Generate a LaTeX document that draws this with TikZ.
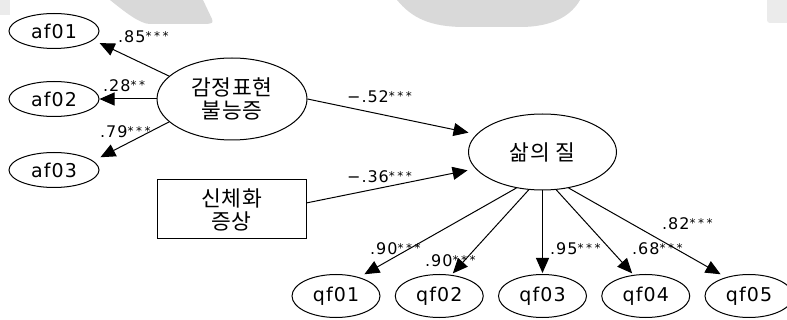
\documentclass[tikz,border=0pt]{standalone}
\usepackage{fontspec}
\setmainfont{DejaVu Sans}[LetterSpace=6]
\newfontfamily\kr{Noto Sans CJK KR}[LetterSpace=3]
\usetikzlibrary{arrows.meta,shapes.geometric}

% significance stars, small and raised
\newcommand\starsii{\raisebox{0.16em}{\fontsize{12}{12}\selectfont *\kern2.5pt*}}
\newcommand\starsiii{\raisebox{0.16em}{\fontsize{12}{12}\selectfont *\kern2.5pt*\kern2.5pt*}}

\tikzset{
  lat/.style={draw, ellipse, line width=1pt, inner sep=0pt,
    minimum width=90pt, minimum height=35pt, font=\fontsize{19}{21}\selectfont},
  ind/.style={draw, ellipse, line width=1pt, inner sep=0pt,
    minimum width=88pt, minimum height=43pt, font=\fontsize{19}{21}\selectfont},
  factor/.style={draw, ellipse, line width=1pt, inner sep=0pt, align=center,
    minimum width=150pt, minimum height=82pt, font=\kr\fontsize{21.5}{23}\selectfont},
  factorb/.style={factor, minimum width=148pt, minimum height=76pt},
  obsbox/.style={draw, rectangle, line width=1pt, inner sep=0pt, align=center,
    minimum width=149pt, minimum height=59pt, font=\kr\fontsize{21.5}{23}\selectfont},
  coef/.style={anchor=base west, inner sep=0pt, font=\fontsize{16}{18}\selectfont},
  arr/.style={line width=1pt, -{Triangle[length=15pt,width=13pt]}},
  wm/.style={draw=none, fill=black!15},
}

\begin{document}
\begin{tikzpicture}[x=1pt, y=-1pt]
\fill[white] (0,0) rectangle (787,320);
\useasboundingbox (0,0) rectangle (787,320);

% faint background marks along the top edge
\fill[wm, fill=black!8] (0,0) rectangle (10,15);
\fill[wm] (110,0) -- (203,0) -- (212,19) .. controls (213,23) .. (207,24)
  -- (150,24) .. controls (140,24) and (125,12) .. cycle;
\fill[wm] (397,0) .. controls (412,18) and (430,27) .. (465,27)
  -- (520,27) .. controls (555,27) and (572,14) .. (580,0) -- cycle;
\fill[wm, fill=black!8, rounded corners=3pt] (767,-5) rectangle (792,23);

% nodes
\node[lat] (af1) at (54,31) {af01};
\node[lat] (af2) at (54,99) {af02};
\node[lat] (af3) at (54,170) {af03};
\node[factor] (emo) at (232,99) {감정표현\\불능증};
\node[obsbox] (body) at (231.5,209.5) {신체화\\증상};
\node[factorb] (life) at (542.5,152) {삶의 질};
\node[ind] (q1) at (336,296) {qf01};
\node[ind] (q2) at (439.25,296) {qf02};
\node[ind] (q3) at (542.5,296) {qf03};
\node[ind] (q4) at (645.75,296) {qf04};
\node[ind] (q5) at (749,296) {qf05};

% loadings and paths
\draw[arr, shorten >=7pt] (emo.160) -- (af1.-13);
\draw[arr] (emo.west) -- (af2.east);
\draw[arr, shorten >=8pt] (emo.200) -- (af3.13);
\draw[arr, shorten >=8pt] (emo.east) -- (life.165);
\draw[arr, shorten >=8pt] (body.5) -- (life.194);
\draw[arr, shorten >=6pt] (life.234) -- (q1.39);
\draw[arr, shorten >=2pt] (life.250) -- (q2.60);
\draw[arr, shorten >=1pt] (life.270) -- (q3.90);
\draw[arr, shorten >=2pt] (life.290) -- (q4.120);
\draw[arr, shorten >=6pt] (life.306) -- (q5.141);

% coefficients
\node[coef] (c1) at (118,43) {.85\starsiii};
\node[coef] (c2) at (103,92) {.28\starsii};
\node[coef] (c3) at (100,138) {.79\starsiii};
\node[coef] (c4) at (347,103) {−.52\starsiii};
\node[coef] (c5) at (347,183) {−.36\starsiii};
\node[coef] (c6) at (370,255) {.90\starsiii};
\node[coef] (c7) at (425,267) {.90\starsiii};
\node[coef] (c8) at (550,255) {.95\starsiii};
\node[coef] (c9) at (632,255) {.68\starsiii};
\node[coef] (c10) at (662,230) {.82\starsiii};
\end{tikzpicture}
\end{document}
